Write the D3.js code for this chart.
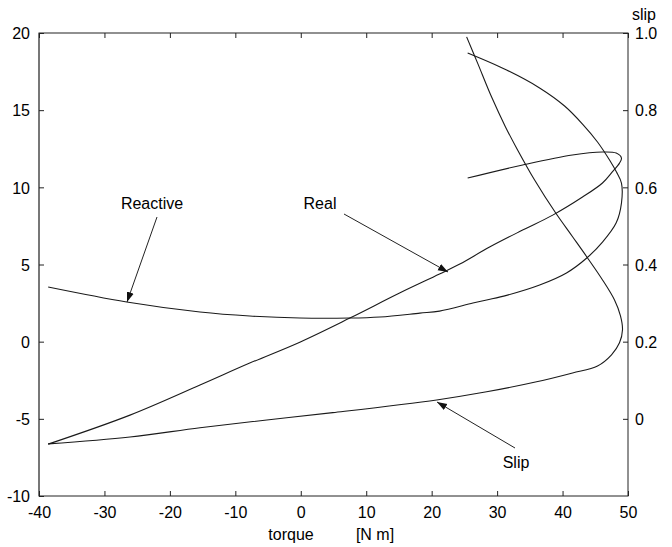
<!DOCTYPE html>
<html>
<head>
<meta charset="utf-8">
<script src="https://cdn.jsdelivr.net/npm/d3@7"></script>
<style>
  html, body { margin: 0; padding: 0; background: #fff; }
  svg { display: block; font-family: "Liberation Sans", Arial, sans-serif; }
</style>
</head>
<body>
<svg id="chart" width="672" height="547"></svg>
<script>
// Torque axis (x) ticks and the two y axes
const torqueTicks = [-40, -30, -20, -10, 0, 10, 20, 30, 40, 50];
const leftTicks = [-10, -5, 0, 5, 10, 15, 20];
const slipTicks = [0, 0.2, 0.4, 0.6, 0.8, 1.0];

// Real component vs torque
const realTorque = [25.5, 33.9, 41.5, 46.1, 48.2, 49.0, 48.7, 47.6, 46.1, 43.05, 38.5, 33.9, 28.85, 24.3, 21.2, 15.1, 7.5, -0.15, -7.8, -15.4, -26.1, -38.6];
const realValue  = [10.6, 11.45, 12.1, 12.29, 12.22, 11.9, 11.57, 11.0, 10.28, 9.37, 8.2, 7.23, 6.13, 5.03, 4.38, 3.15, 1.53, -0.03, -1.39, -2.81, -4.76, -6.64];

// Reactive component vs torque
const reactiveTorque = [-38.6, -26.6, -15.4, -7.8, -0.15, 7.5, 12.1, 18.2, 21.2, 26.3, 28.4, 31.45, 36.5, 40.6, 43.7, 46.1, 48.2, 49.0, 49.0, 48.24, 47.18, 45.34, 43.05, 40.31, 36.49, 31.45, 25.5];
const reactiveValue  = [3.54, 2.57, 1.92, 1.66, 1.53, 1.53, 1.6, 1.85, 1.98, 2.5, 2.7, 3.0, 3.67, 4.45, 5.42, 6.45, 7.7, 8.98, 10.28, 10.99, 11.77, 12.94, 14.1, 15.27, 16.44, 17.6, 18.7];

// Slip vs torque (right axis)
const slipTorque = [25.34, 27.02, 29.16, 31.3, 33.13, 35.73, 38.93, 41.53, 43.82, 46.11, 47.94, 48.85, 49.16, 48.7, 47.48, 45.34, 41.53, 36.03, 28.4, 20.76, 4.89, -5.19, -15.4, -26.1, -38.6];
const slipValue  = [0.99, 0.922, 0.834, 0.756, 0.697, 0.619, 0.534, 0.472, 0.417, 0.36, 0.308, 0.267, 0.231, 0.197, 0.166, 0.137, 0.119, 0.096, 0.07, 0.049, 0.016, -0.003, -0.023, -0.047, -0.065];

const svg = d3.select("#chart");
const plotLeft = 39, plotRight = 628, plotTop = 33, plotBottom = 496;

const x = d3.scaleLinear().domain([-40, 50]).range([plotLeft, plotRight]);
const yL = d3.scaleLinear().domain([-10, 20]).range([plotBottom, plotTop]);
const yR = d3.scaleLinear().domain([-0.2, 1.0]).range([plotBottom, plotTop]);

const ink = "#000";
const fontSize = 16;
const intLabel = d => String(d); // plain hyphen for negatives

// Frame
svg.append("rect")
  .attr("x", plotLeft).attr("y", plotTop)
  .attr("width", plotRight - plotLeft).attr("height", plotBottom - plotTop)
  .attr("fill", "none").attr("stroke", "#222").attr("stroke-width", 1);
svg.append("line")
  .attr("x1", plotLeft).attr("x2", plotLeft).attr("y1", plotTop).attr("y2", plotBottom)
  .attr("stroke", "#777").attr("stroke-width", 2);

// Bottom axis (ticks point inward)
const xBottom = d3.axisBottom(x).tickValues(torqueTicks).tickSizeInner(-5).tickSizeOuter(0).tickPadding(11).tickFormat(intLabel);
const gB = svg.append("g").attr("transform", `translate(0,${plotBottom})`).call(xBottom);
// Top axis ticks only
const xTop = d3.axisTop(x).tickValues(torqueTicks).tickSizeInner(-5).tickSizeOuter(0).tickFormat("");
const gT = svg.append("g").attr("transform", `translate(0,${plotTop})`).call(xTop);
// Left axis
const yLeftAxis = d3.axisLeft(yL).tickValues(leftTicks).tickSizeInner(-5).tickSizeOuter(0).tickPadding(9).tickFormat(intLabel);
const gL = svg.append("g").attr("transform", `translate(${plotLeft},0)`).call(yLeftAxis);
// Right axis (slip)
const yRightAxis = d3.axisRight(yR).tickValues(slipTicks).tickSizeInner(-5).tickSizeOuter(0).tickPadding(7)
  .tickFormat(d => d === 0 ? "0" : d3.format(".1f")(d));
const gR = svg.append("g").attr("transform", `translate(${plotRight},0)`).call(yRightAxis);

[gB, gT, gL, gR].forEach(g => {
  g.select(".domain").remove();
  g.selectAll(".tick line").attr("stroke", "#222");
  g.selectAll(".tick text")
    .attr("fill", ink)
    .style("font-size", fontSize + "px")
    .style("font-family", '"Liberation Sans", Arial, sans-serif');
});
gL.selectAll(".tick text").attr("dy", "0.36em");
gR.selectAll(".tick text").attr("dy", "0.36em");

// Curves
const lineL = (xs, ys) => d3.line()
  .x((d, i) => x(xs[i])).y((d, i) => yL(ys[i]))
  .curve(d3.curveCatmullRom.alpha(0.5))(xs);
const lineR = (xs, ys) => d3.line()
  .x((d, i) => x(xs[i])).y((d, i) => yR(ys[i]))
  .curve(d3.curveCatmullRom.alpha(0.5))(xs);

const curves = svg.append("g").attr("fill", "none").attr("stroke", "#1a1a1a").attr("stroke-width", 1.1);
curves.append("path").attr("d", lineL(realTorque, realValue));
curves.append("path").attr("d", lineL(reactiveTorque, reactiveValue));
curves.append("path").attr("d", lineR(slipTorque, slipValue));

// Annotation arrows
svg.append("defs").append("marker")
  .attr("id", "head").attr("viewBox", "0 0 10 10")
  .attr("refX", 10).attr("refY", 5)
  .attr("markerWidth", 10).attr("markerHeight", 10)
  .attr("markerUnits", "userSpaceOnUse")
  .attr("orient", "auto")
  .append("path").attr("d", "M0,1.5 L10,5 L0,8.5 Z").attr("fill", "#111");

const notes = [
  { text: "Reactive", tx: 152, ty: 209, x1: 157, y1: 217, x2: 127, y2: 302 },
  { text: "Real", tx: 320, ty: 209, x1: 344, y1: 214, x2: 448, y2: 272 },
  { text: "Slip", tx: 516, ty: 468, x1: 515, y1: 448, x2: 437, y2: 402 }
];
notes.forEach(n => {
  svg.append("line")
    .attr("x1", n.x1).attr("y1", n.y1).attr("x2", n.x2).attr("y2", n.y2)
    .attr("stroke", "#222").attr("stroke-width", 1)
    .attr("marker-end", "url(#head)");
  svg.append("text")
    .attr("x", n.tx).attr("y", n.ty)
    .attr("text-anchor", "middle")
    .attr("fill", ink)
    .style("font-size", "16px")
    .text(n.text);
});

// Axis titles
svg.append("text").attr("x", 291).attr("y", 540).attr("text-anchor", "middle")
  .attr("fill", ink).style("font-size", "16px").text("torque");
svg.append("text").attr("x", 375).attr("y", 540).attr("text-anchor", "middle")
  .attr("fill", ink).style("font-size", "16px").text("[N m]");
svg.append("text").attr("x", 644).attr("y", 20).attr("text-anchor", "middle")
  .attr("fill", ink).style("font-size", "16px").text("slip");
</script>
</body>
</html>
